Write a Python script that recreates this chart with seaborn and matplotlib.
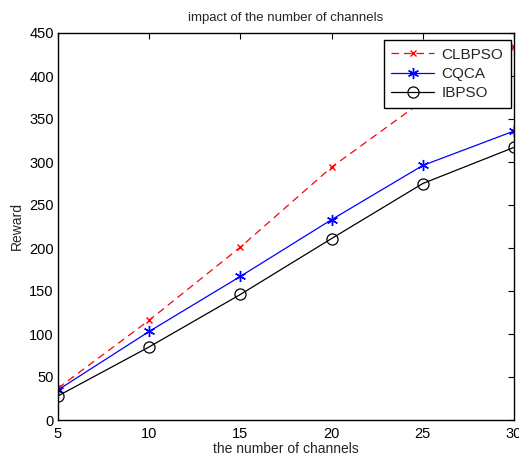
import matplotlib
matplotlib.use("Agg")
import matplotlib.pyplot as plt
import seaborn as sns
import pandas as pd

channels = [5, 10, 15, 20, 25, 30]
clbpso = [37, 116, 201, 294, 371, 434]
cqca = [35, 103, 167, 233, 296, 336]
ibpso = [28, 85, 146, 211, 275, 317]

x_ticks = [5, 10, 15, 20, 25, 30]
y_ticks = [0, 50, 100, 150, 200, 250, 300, 350, 400, 450]

sns.set_style("white")
plt.rcParams['font.family'] = ['Liberation Sans', 'DejaVu Sans']
plt.rcParams['xtick.direction'] = 'in'
plt.rcParams['ytick.direction'] = 'in'

fig = plt.figure(figsize=(5.19, 4.57), dpi=100)
ax = fig.add_axes([58/519, 37/457, 456/519, 387/457])

df = pd.DataFrame({"x": channels, "CLBPSO": clbpso, "CQCA": cqca, "IBPSO": ibpso})

sns.lineplot(data=df, x="x", y="CLBPSO", ax=ax, color="red", linestyle=(0, (6, 4)),
             marker="x", markersize=5, markeredgewidth=1.0, markeredgecolor="red",
             linewidth=0.9, label="CLBPSO")
sns.lineplot(data=df, x="x", y="CQCA", ax=ax, color="blue", linestyle="-",
             marker=(6, 2, 0), markersize=8, markeredgewidth=1.0, markeredgecolor="blue",
             linewidth=0.9, label="CQCA")
sns.lineplot(data=df, x="x", y="IBPSO", ax=ax, color="black", linestyle="-",
             marker="o", markersize=8, markerfacecolor="none", markeredgecolor="black",
             markeredgewidth=0.9, linewidth=0.9, label="IBPSO")

ax.set_xlim(5, 30)
ax.set_ylim(0, 450)
ax.set_xticks(x_ticks)
ax.set_yticks(y_ticks)
ax.tick_params(axis='both', labelsize=10.5, length=4, width=0.8, top=True, right=True,
               colors='black')
ax.tick_params(axis='x', pad=5)
ax.tick_params(axis='y', pad=3)
for s in ax.spines.values():
    s.set_color('black')
    s.set_linewidth(1.0)
ax.set_xlabel("the number of channels", fontsize=10, labelpad=1)
ax.set_ylabel("Reward", fontsize=10, labelpad=4)
ax.set_title("impact of the number of channels", fontsize=9.5, pad=9)

leg = ax.legend(loc="upper right", fontsize=11, frameon=True, fancybox=False,
                edgecolor="black", framealpha=1, handlelength=2.8, borderpad=0.5,
                labelspacing=0.35, borderaxespad=0.2, handletextpad=0.5,
                bbox_to_anchor=(1.0, 0.99))
leg.get_frame().set_linewidth(1.0)

fig.savefig("out.png", dpi=100)
